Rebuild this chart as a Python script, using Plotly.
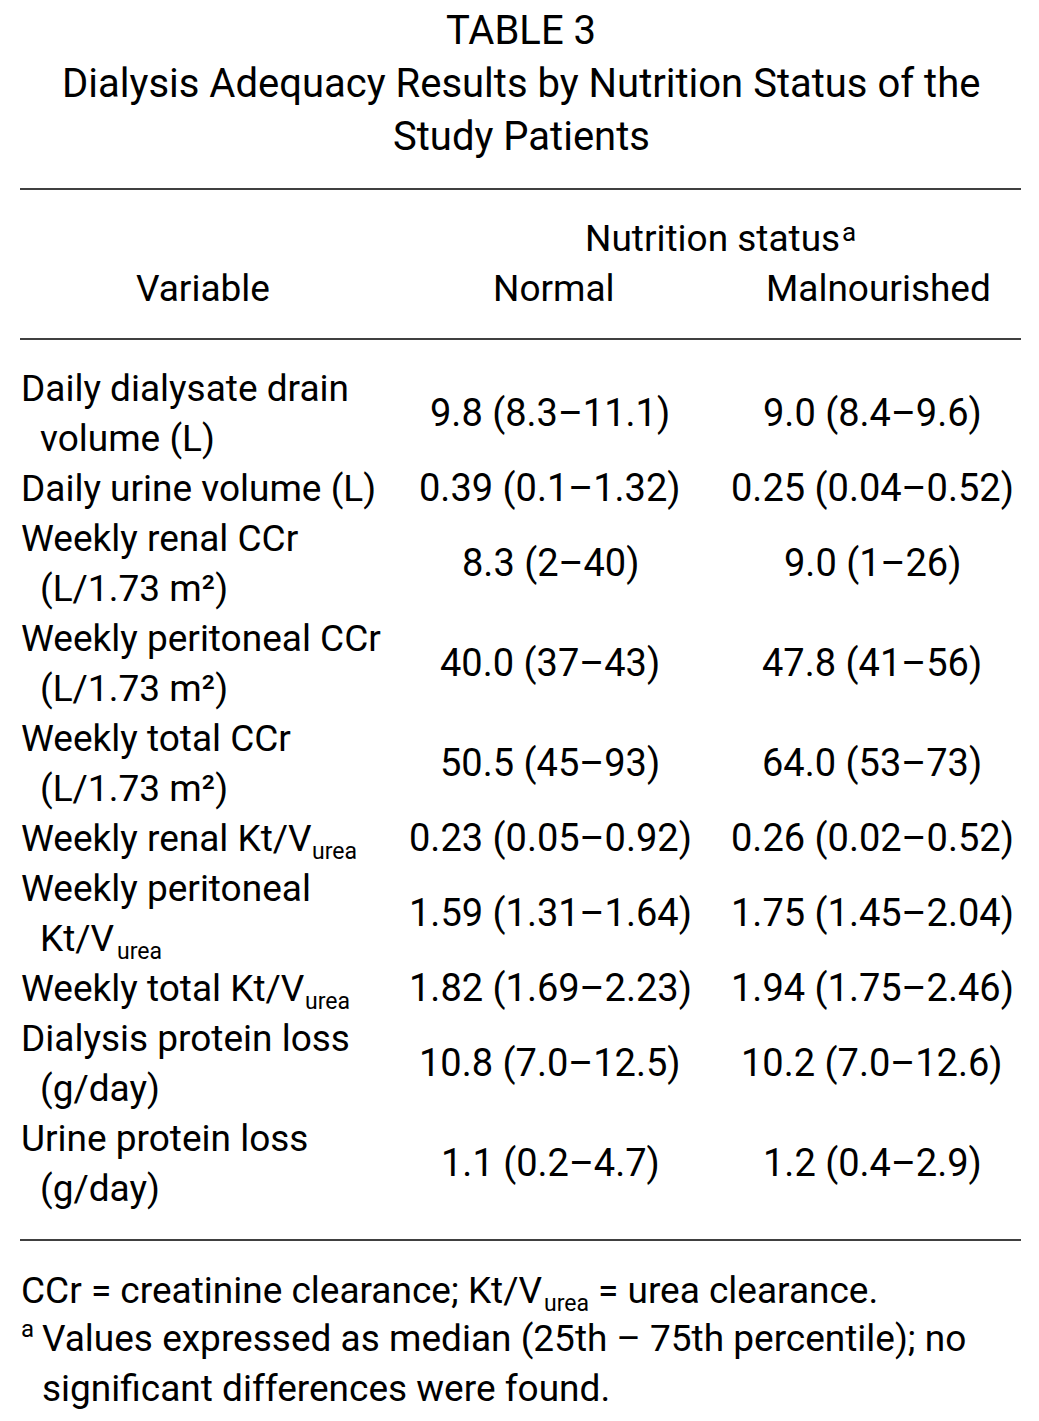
import plotly.graph_objects as go

W, H = 1039, 1421          # browser window
PAGE_MARGIN = 8            # default body margin of the html page
FW, FH = W - 2 * PAGE_MARGIN, H - 2 * PAGE_MARGIN
FONT = "Roboto"
FS_BODY = 37
FS_VAL = 38
FS_TITLE = 40
FS_NOTE = 37
FS_SMALL = 26
FS_SUB = 23

# ---- data ----
title_lines = ["TABLE 3",
               "Dialysis Adequacy Results by Nutrition Status of the",
               "Study Patients"]
group_header = "Nutrition status"
group_header_mark = "a"
col_headers = ["Variable", "Normal", "Malnourished"]
variables = [
    ["Daily dialysate drain", "volume (L)"],
    ["Daily urine volume (L)"],
    ["Weekly renal CCr", "(L/1.73 m²)"],
    ["Weekly peritoneal CCr", "(L/1.73 m²)"],
    ["Weekly total CCr", "(L/1.73 m²)"],
    ["Weekly renal Kt/V"],
    ["Weekly peritoneal", "Kt/V"],
    ["Weekly total Kt/V"],
    ["Dialysis protein loss", "(g/day)"],
    ["Urine protein loss", "(g/day)"],
]
# subscript attached to the last line of a variable label (None = no subscript)
variable_subscripts = [None, None, None, None, None, "urea", "urea", "urea", None, None]
normal_vals = ["9.8 (8.3–11.1)", "0.39 (0.1–1.32)", "8.3 (2–40)", "40.0 (37–43)",
               "50.5 (45–93)", "0.23 (0.05–0.92)", "1.59 (1.31–1.64)",
               "1.82 (1.69–2.23)", "10.8 (7.0–12.5)", "1.1 (0.2–4.7)"]
malnourished_vals = ["9.0 (8.4–9.6)", "0.25 (0.04–0.52)", "9.0 (1–26)", "47.8 (41–56)",
                     "64.0 (53–73)", "0.26 (0.02–0.52)", "1.75 (1.45–2.04)",
                     "1.94 (1.75–2.46)", "10.2 (7.0–12.6)", "1.2 (0.4–2.9)"]
footnote1_parts = ["CCr = creatinine clearance; Kt/V", "urea", "= urea clearance."]
footnote_mark = "a"
footnote2_lines = ["Values expressed as median (25th – 75th percentile); no",
                   "significant differences were found."]

# ---- layout helpers (pixel positions in the window -> paper coords) ----
def px(x):
    return (x - PAGE_MARGIN) / FW


def py(y):
    return 1 - (y - PAGE_MARGIN) / FH


fig = go.Figure()


def txt(x, y, s, anchor="center", size=FS_BODY):
    fig.add_annotation(x=px(x), y=py(y), xref="paper", yref="paper", text=s,
                       showarrow=False, xanchor=anchor, yanchor="middle",
                       font=dict(family=FONT, size=size, color="black"),
                       borderpad=0, borderwidth=0, align="left")


# title
for i, line in enumerate(title_lines):
    txt(521, 30 + 53 * i, line, size=FS_TITLE)

# horizontal rules
for yl in (189, 339, 1240):
    fig.add_shape(type="line", xref="paper", yref="paper", x0=px(20), x1=px(1021),
                  y0=py(yl), y1=py(yl), line=dict(color="black", width=1.3))

# headers
txt(840, 239, group_header, anchor="right")
txt(842, 232, group_header_mark, anchor="left", size=FS_SMALL)
txt(203, 288, col_headers[0])
txt(554, 288, col_headers[1])
txt(878, 288, col_headers[2])

# body
LINE0, STEP = 388, 50
XV, XIND = 21, 40
XN, XM = 550, 872
SUB_X = {5: 312, 6: 117, 7: 305}
SUB_DY = 13
k = 0
for r, (var, sub, nv, mv) in enumerate(zip(variables, variable_subscripts,
                                            normal_vals, malnourished_vals)):
    ys = []
    for j, part in enumerate(var):
        y = LINE0 + STEP * k
        ys.append(y)
        txt(XV if j == 0 else XIND, y, part, anchor="left")
        k += 1
    if sub:
        txt(SUB_X[r], ys[-1] + SUB_DY, sub, anchor="left", size=FS_SUB)
    yc = sum(ys) / len(ys)
    txt(XN, yc, nv, size=FS_VAL)
    txt(XM, yc, mv, size=FS_VAL)

# footnotes
txt(21, 1290, footnote1_parts[0], anchor="left", size=FS_NOTE)
txt(544, 1290 + SUB_DY, footnote1_parts[1], anchor="left", size=FS_SUB)
txt(598, 1290, footnote1_parts[2], anchor="left", size=FS_NOTE)
txt(21, 1329, footnote_mark, anchor="left", size=FS_SMALL - 2)
txt(42, 1338, footnote2_lines[0], anchor="left", size=FS_NOTE)
txt(42, 1388, footnote2_lines[1], anchor="left", size=FS_NOTE)

fig.update_layout(width=FW, height=FH, margin=dict(l=0, r=0, t=0, b=0),
                  paper_bgcolor="white", plot_bgcolor="white",
                  xaxis=dict(visible=False), yaxis=dict(visible=False))
fig.write_html("out.html")
